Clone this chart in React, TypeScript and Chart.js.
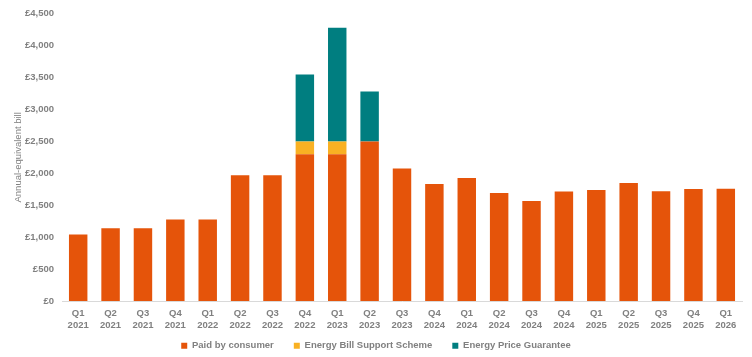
import React, { useEffect, useRef } from "react";
import { Chart, registerables } from "chart.js";

Chart.register(...registerables);

const quarters = ["Q1","Q2","Q3","Q4","Q1","Q2","Q3","Q4","Q1","Q2","Q3","Q4","Q1","Q2","Q3","Q4","Q1","Q2","Q3","Q4","Q1"];
const years = ["2021","2021","2021","2021","2022","2022","2022","2022","2023","2023","2023","2024","2024","2024","2024","2024","2025","2025","2025","2025","2026"];

const paidByConsumer = [1042,1138,1138,1277,1277,1971,1971,2300,2300,2500,2074,1834,1928,1690,1568,1717,1738,1849,1720,1755,1758];
const energyBillSupport = [0,0,0,0,0,0,0,200,200,0,0,0,0,0,0,0,0,0,0,0,0];
const energyPriceGuarantee = [0,0,0,0,0,0,0,1049,1779,780,0,0,0,0,0,0,0,0,0,0,0];

const yTicksMax = 4500;
const yTickStep = 500;

const ORANGE = "#E5540A";
const YELLOW = "#F9B123";
const TEAL = "#007E80";
const GREY = "#808080";
const FONT = "'Liberation Sans', Arial, sans-serif";

const LEGEND_H = 24;
const LEGEND_SHIFT = 10;

const legendHeightPlugin = {
  id: "legendHeight",
  afterInit(chart: any) {
    const legend = chart.legend;
    if (!legend) return;
    const origFit = legend.fit;
    legend.fit = function () {
      origFit.call(this);
      this.height = LEGEND_H;
    };
    const origDraw = legend.draw;
    legend.draw = function () {
      const t = this.top;
      this.top = t - LEGEND_SHIFT;
      origDraw.call(this);
      this.top = t;
    };
  },
};

export default function App() {
  const ref = useRef<HTMLCanvasElement | null>(null);

  useEffect(() => {
    if (!ref.current) return;
    const labels = quarters.map((q, i) => [q, years[i]]);
    const chart = new Chart(ref.current, {
      type: "bar",
      data: {
        labels,
        datasets: [
          { label: "Paid by consumer", data: paidByConsumer, backgroundColor: ORANGE },
          { label: "Energy Bill Support Scheme", data: energyBillSupport, backgroundColor: YELLOW },
          { label: "Energy Price Guarantee", data: energyPriceGuarantee, backgroundColor: TEAL },
        ],
      },
      plugins: [legendHeightPlugin],
      options: {
        animation: false,
        responsive: true,
        maintainAspectRatio: false,
        layout: { padding: { top: 10, right: 10, left: 10, bottom: 2 } },
        datasets: { bar: { categoryPercentage: 1, barPercentage: 0.57 } },
        plugins: {
          tooltip: { enabled: false },
          legend: {
            position: "bottom",
            labels: {
              boxWidth: 6,
              boxHeight: 6,
              padding: 20,
              color: GREY,
              font: { family: FONT, size: 9.5, weight: "bold" },
            },
          },
        },
        scales: {
          x: {
            stacked: true,
            grid: { display: false, drawTicks: false },
            border: { display: true, color: "#D9D9D9", width: 1 },
            afterFit: (scale: any) => { scale.height = 30; },
            ticks: {
              color: GREY,
              padding: 7,
              maxRotation: 0,
              autoSkip: false,
              font: { family: FONT, size: 9.5, weight: "bold", lineHeight: 1.2 },
            },
          },
          y: {
            stacked: true,
            min: 0,
            max: yTicksMax,
            grid: { display: false, drawTicks: false },
            border: { display: false },
            afterFit: (scale: any) => { scale.width = 52; },
            ticks: {
              stepSize: yTickStep,
              color: GREY,
              padding: 8,
              font: { family: FONT, size: 9.5, weight: "bold" },
              callback: (v: any) => "£" + Number(v).toLocaleString("en-GB"),
            },
            title: {
              display: true,
              text: "Annual-equivalent bill",
              color: GREY,
              padding: { top: 3, bottom: 0 },
              font: { family: FONT, size: 9.5 },
            },
          },
        },
      },
    });
    return () => chart.destroy();
  }, []);

  return (
    <div style={{ position: "fixed", left: 0, top: 0, width: 752, height: 357, background: "#fff" }}>
      <canvas ref={ref} />
    </div>
  );
}
